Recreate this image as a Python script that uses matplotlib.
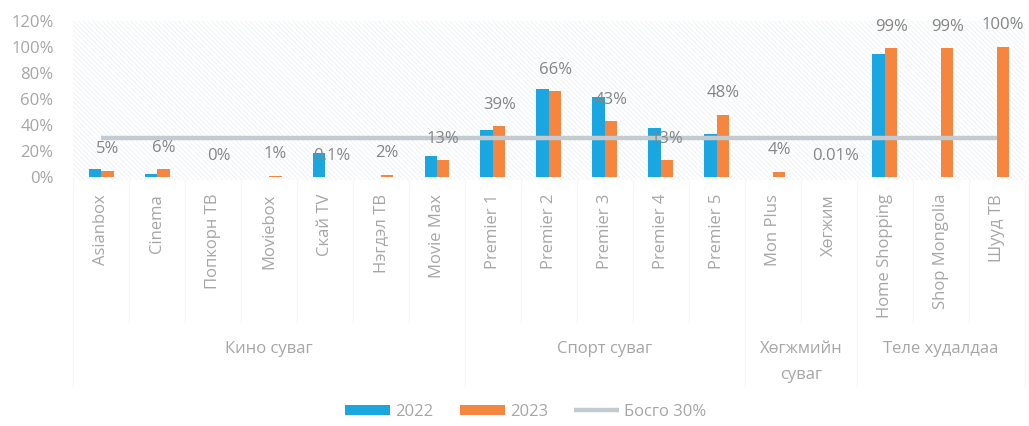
import matplotlib.pyplot as plt
import matplotlib.transforms as mtransforms
from matplotlib.patches import Rectangle
import numpy as np

plt.rcParams['font.family'] = ['Open Sans', 'DejaVu Sans']
plt.rcParams['hatch.linewidth'] = 0.6

channels = ["Asianbox", "Cinema", "Попкорн ТВ", "Moviebox", "Скай TV", "Нэгдэл ТВ",
            "Movie Max", "Premier 1", "Premier 2", "Premier 3", "Premier 4", "Premier 5",
            "Mon Plus", "Хөгжим", "Home Shopping", "Shop Mongolia", "Шууд ТВ"]
share_2022 = [6, 2.5, 0, 0, 18.5, 0, 16, 36.6, 67.4, 61.3, 37.4, 32.8, 0.3, 0, 94.4, 0, 0]
share_2023 = [5, 6, 0, 1, 0.1, 2, 13, 39, 66, 43, 13, 48, 4, 0.01, 99, 99, 100]
threshold = 30
groups = ["Кино суваг", "Спорт суваг", "Хөгжмийн\nсуваг", "Теле худалдаа"]
group_sizes = [7, 5, 2, 3]

blue = '#1AA7E1'
orange = '#F5853F'
line_gray = '#C3CBD1'
tick_gray = '#A6A6A6'
label_gray = '#858585'

fig = plt.figure(figsize=(10.29, 4.26), dpi=100)
ax = fig.add_axes([0.071, 0.584, 0.925, 0.367])

n = len(channels)
x = np.arange(n)
w = 0.223

# faint hatched plot background
hatch = Rectangle((0, -0.02), 1, 1.02, transform=ax.transAxes, facecolor='white',
                  edgecolor='#EDF2F5', hatch='\\' * 7, linewidth=0, zorder=0,
                  clip_on=False)
ax.add_patch(hatch)

b22 = ax.bar(x - w / 2, share_2022, w, color=blue, label='2022', zorder=2)
b23 = ax.bar(x + w / 2, share_2023, w, color=orange, label='2023', zorder=2)
ln, = ax.plot(x, [threshold] * n, color=line_gray, linewidth=3.2, label='Босго 30%',
              zorder=3, solid_capstyle='butt')

for xi, v in zip(x, share_2023):
    ax.annotate(f"{v:g}%", (xi + w / 2, v), xytext=(0, 15.5), textcoords='offset points',
                ha='center', va='center', fontsize=12, color=label_gray, zorder=4)

ax.set_xlim(-0.5, n - 0.5)
ax.set_ylim(0, 120)
ax.set_yticks(np.arange(0, 121, 20))
ax.set_yticklabels([f"{t}%" for t in range(0, 121, 20)])
ax.set_xticks(x)
ax.set_xticklabels(channels, rotation=90)
ax.tick_params(axis='both', length=0, labelsize=12, colors=tick_gray)
ax.tick_params(axis='x', pad=12)
ax.tick_params(axis='y', pad=14)
for s in ax.spines.values():
    s.set_visible(False)

# category / group separators below the axis
trans = mtransforms.blended_transform_factory(ax.transData, fig.transFigure)
sep_color = '#F6F6F6'
for b in np.arange(-0.5, n, 1.0):
    ax.plot([b, b], [0.578, 0.245], color=sep_color, lw=0.8, transform=trans, clip_on=False)
start = -0.5
for name, size in zip(groups, group_sizes):
    ax.plot([start, start], [0.245, 0.095], color=sep_color, lw=0.8, transform=trans,
            clip_on=False)
    center = start + size / 2
    ax.text(center, 0.2, name, transform=trans, ha='center', va='top', fontsize=12,
            color=tick_gray, linespacing=1.85)
    start += size
ax.plot([start, start], [0.245, 0.095], color=sep_color, lw=0.8, transform=trans,
        clip_on=False)

fig.legend([b22, b23, ln], ['2022', '2023', 'Босго 30%'], loc='center',
           bbox_to_anchor=(0.511, 0.033), ncol=3, frameon=False,
           fontsize=12, labelcolor=tick_gray, handlelength=2.7, handleheight=0.6,
           columnspacing=1.6, handletextpad=0.3)

fig.savefig('out.png', dpi=100)
